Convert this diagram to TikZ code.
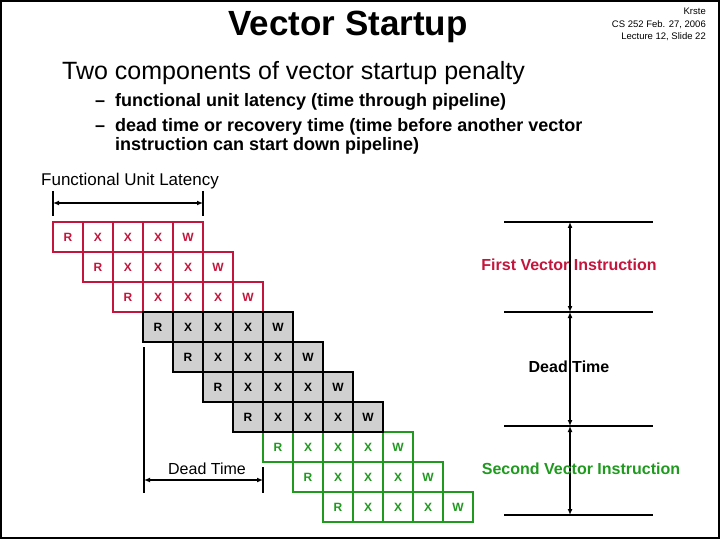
\documentclass[tikz,border=0pt]{standalone}
\usepackage{fontspec}
\setmainfont{Liberation Sans}
\usetikzlibrary{arrows.meta}
\definecolor{vecred}{HTML}{C4153C}
\definecolor{vecgreen}{HTML}{1F9A1F}
\definecolor{deadgray}{HTML}{D0D0D0}

\begin{document}
\begin{tikzpicture}[x=1pt,y=-1pt,
  cell/.style={draw, minimum size=30pt, inner sep=0pt, line width=1.5pt, font=\bfseries\fontsize{12}{14}\selectfont},
  firstcell/.style={cell, draw=vecred, text=vecred, fill=white},
  deadcell/.style={cell, draw=black, fill=deadgray},
  secondcell/.style={cell, draw=vecgreen, text=vecgreen, fill=white},
  guide/.style={line width=1.5pt},
  dimarrow/.style={line width=1.5pt, {Latex[length=6pt,width=5pt]}-{Latex[length=6pt,width=5pt]}},
  bullet/.style={anchor=base west, inner sep=0pt, font=\bfseries\fontsize{18}{19}\selectfont},
  lbl/.style={font=\fontsize{16}{19}\selectfont}]
\useasboundingbox (0,0) rectangle (720,540);
\draw[line width=2.5pt] (1,1) rectangle (719,538);

% slide header
\node[anchor=north east, align=right, inner sep=0pt, font=\fontsize{9.5}{12.5}\selectfont] (hdr) at (706,8)
  {Krste\\CS 252 Feb. 27, 2006\\Lecture 12, Slide 22};
\node[font=\bfseries\fontsize{35}{38}\selectfont] (title) at (348,27) {Vector Startup};
\node[anchor=base west, inner sep=0pt, font=\fontsize{25}{28}\selectfont] (sub) at (62,80) {Two components of vector startup penalty};
\node[bullet] (d1) at (95,107) {--};
\node[bullet] (b1) at (115,107) {functional unit latency (time through pipeline)};
\node[bullet] (d2) at (95,132) {--};
\node[bullet] (b2) at (115,132) {dead time or recovery time (time before another vector};
\node[bullet] (b3) at (115,151) {instruction can start down pipeline)};

% pipeline rows
\foreach \i/\st in {0/firstcell,1/firstcell,2/firstcell,7/secondcell,8/secondcell,9/secondcell,3/deadcell,4/deadcell,5/deadcell,6/deadcell}
  \foreach \s [count=\j from 0] in {R,X,X,X,W}
    \node[\st] (c\i\j) at ({68+30*(\i+\j)},{237+30*\i}) {\s};

% functional unit latency
\node[font=\fontsize{17}{20}\selectfont] (fulabel) at (130,181) {Functional Unit Latency};
\coordinate (ful-l) at (53,203);
\coordinate (ful-r) at (203,203);
\draw[guide] (53,191) -- (53,216);
\draw[guide] (203,191) -- (203,216);
\draw[dimarrow] (ful-l) -- (ful-r);

% dead time, left
\node[lbl] (dtlabel) at (207,469) {Dead Time};
\coordinate (dt-l) at (144,480);
\coordinate (dt-r) at (263,480);
\draw[guide] (144,347) -- (144,493);
\draw[guide] (263,467) -- (263,493);
\draw[dimarrow] (dt-l) -- (dt-r);

% right hand scale
\foreach \y in {222,312,426,515}
  \draw[guide] (504,\y) -- (653,\y);
\coordinate (v0) at (570,222);
\coordinate (v1) at (570,312);
\coordinate (v2) at (570,426);
\coordinate (v3) at (570,515);
\draw[dimarrow] (v0) -- (v1);
\draw[dimarrow] (v1) -- (v2);
\draw[dimarrow] (v2) -- (v3);
\node[lbl, font=\bfseries\fontsize{16}{19}\selectfont, text=vecred] (firstlabel) at (569,265) {First Vector Instruction};
\node[lbl, font=\bfseries\fontsize{16}{19}\selectfont] (deadlabel) at (569,367) {Dead Time};
\node[lbl, font=\bfseries\fontsize{16}{19}\selectfont, text=vecgreen] (secondlabel) at (581,469) {Second Vector Instruction};
\end{tikzpicture}
\end{document}
